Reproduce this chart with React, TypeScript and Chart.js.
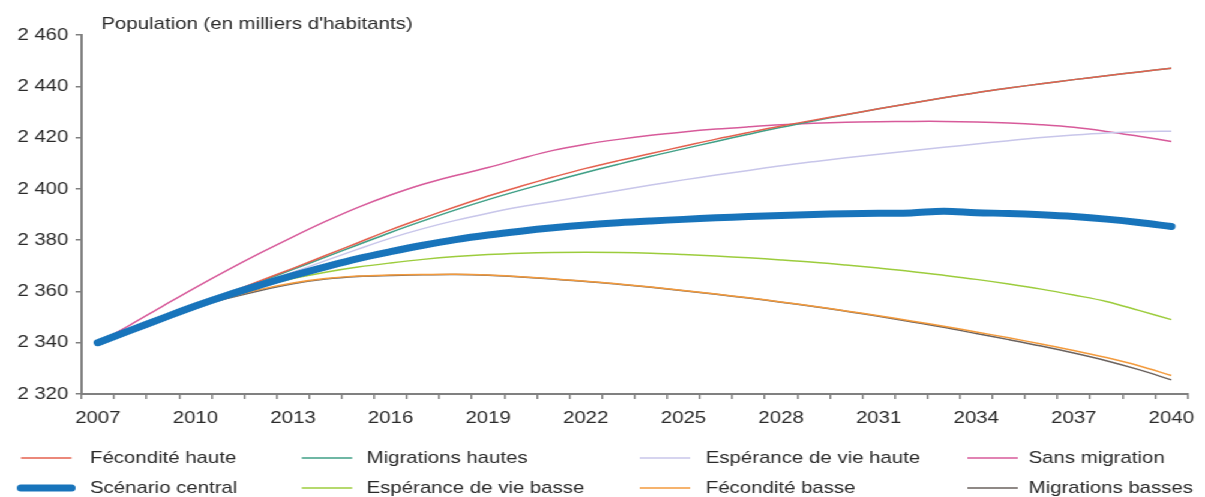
import React, { useEffect, useRef } from "react";
import { Chart, registerables } from "chart.js";

Chart.register(...registerables);

const years: string[] = [
  "2007","2008","2009","2010","2011","2012","2013","2014","2015","2016","2017","2018",
  "2019","2020","2021","2022","2023","2024","2025","2026","2027","2028","2029","2030",
  "2031","2032","2033","2034","2035","2036","2037","2038","2039","2040",
];

const feconditeHaute = [
  2340, 2345, 2349.8, 2354.5, 2359.3, 2364.2, 2369, 2374, 2379, 2384, 2388.6, 2393,
  2397.2, 2401, 2404.6, 2408, 2411, 2413.8, 2416.6, 2419.4, 2422, 2424.5, 2426.8, 2429,
  2431.2, 2433.4, 2435.5, 2437.5, 2439.3, 2441, 2442.6, 2444.1, 2445.6, 2447,
];
const migrationsHautes = [
  2340, 2344.8, 2349.6, 2354.3, 2359, 2363.8, 2368.6, 2373.4, 2378.2, 2383, 2387.5, 2391.8,
  2395.8, 2399.5, 2403, 2406.4, 2409.6, 2412.7, 2415.6, 2418.5, 2421.3, 2424, 2426.5, 2428.9,
  2431.2, 2433.4, 2435.5, 2437.5, 2439.3, 2441, 2442.6, 2444.1, 2445.6, 2447,
];
const esperanceHaute = [
  2340, 2345, 2349.8, 2354.5, 2359, 2363.3, 2367.5, 2372, 2376.5, 2380.8, 2384.5, 2387.7,
  2390.5, 2393, 2395.1, 2397.2, 2399.4, 2401.5, 2403.5, 2405.4, 2407.2, 2409, 2410.6, 2412.1,
  2413.5, 2414.9, 2416.2, 2417.5, 2418.8, 2420, 2421, 2421.8, 2422.3, 2422.5,
];
const sansMigration = [
  2340, 2347, 2354.3, 2361.5, 2368.4, 2375, 2381.3, 2387.3, 2392.8, 2397.6, 2401.8, 2405.2,
  2408.3, 2411.8, 2415, 2417.4, 2419.3, 2420.9, 2422.2, 2423.3, 2424.2, 2425, 2425.6, 2426,
  2426.2, 2426.3, 2426.3, 2426.1, 2425.7, 2425, 2424, 2422.4, 2420.5, 2418.5,
];
const scenarioCentral = [
  2340, 2344.8, 2349.6, 2354.3, 2358.6, 2362.5, 2366.2, 2369.6, 2372.8, 2375.5, 2378, 2380.2,
  2382, 2383.5, 2384.8, 2385.9, 2386.8, 2387.5, 2388.1, 2388.7, 2389.2, 2389.6, 2390, 2390.3,
  2390.5, 2390.6, 2391.3, 2390.7, 2390.4, 2389.9, 2389.2, 2388.2, 2386.9, 2385.3,
];
const esperanceBasse = [
  2340, 2344.8, 2349.5, 2354, 2358, 2361.8, 2365, 2367.5, 2369.5, 2371.1, 2372.5, 2373.6,
  2374.4, 2374.9, 2375.2, 2375.3, 2375.2, 2374.9, 2374.4, 2373.8, 2373.1, 2372.3, 2371.4, 2370.3,
  2369.1, 2367.8, 2366.3, 2364.7, 2362.9, 2360.9, 2358.6, 2356.1, 2352.6, 2349,
];
const feconditeBasse = [
  2340, 2344.7, 2349.4, 2353.8, 2357.6, 2360.8, 2363.3, 2365, 2366, 2366.4, 2366.6, 2366.7,
  2366.4, 2365.7, 2364.9, 2364, 2362.9, 2361.7, 2360.4, 2359, 2357.5, 2355.9, 2354.2, 2352.4,
  2350.5, 2348.5, 2346.4, 2344.2, 2341.9, 2339.5, 2337, 2334.2, 2331, 2327.2,
];
const migrationsBasses = [
  2340, 2344.7, 2349.4, 2353.8, 2357.3, 2360.4, 2363, 2364.8, 2365.8, 2366.2, 2366.5, 2366.6,
  2366.3, 2365.6, 2364.8, 2363.9, 2362.8, 2361.6, 2360.3, 2358.9, 2357.4, 2355.8, 2354.1, 2352.3,
  2350.3, 2348.2, 2346, 2343.6, 2341.2, 2338.7, 2336, 2333, 2329.5, 2325.5,
];

const seriesNames = [
  "Fécondité haute",
  "Migrations hautes",
  "Espérance de vie haute",
  "Sans migration",
  "Scénario central",
  "Espérance de vie basse",
  "Fécondité basse",
  "Migrations basses",
];
const seriesData = [
  feconditeHaute, migrationsHautes, esperanceHaute, sansMigration,
  scenarioCentral, esperanceBasse, feconditeBasse, migrationsBasses,
];
const seriesColors = [
  "#e4604e", "#3f9f86", "#c8c6ea", "#d75a9a",
  "#1874bb", "#9ccc3c", "#f39a3c", "#6a625e",
];

const yMin = 2320;
const yMax = 2460;
const yStep = 20;
const labelEvery = 3;
const titleText = "Population (en milliers d'habitants)";

const W = 1004;
const H = 497;
const STRETCH = 1205 / W;

const fmt = (v: number) => {
  const s = String(Math.round(v));
  return s.length > 3 ? s.slice(0, s.length - 3) + " " + s.slice(-3) : s;
};

const FONT = "'Liberation Sans', Arial, sans-serif";
const TEXT_COLOR = "#2a2a2a";

const legendLineX = [17.5, 251.5, 533, 806];
const legendTextX = [75, 305.5, 588, 857];
const legendRowY = [458, 488];

const extrasPlugin = {
  id: "extras",
  afterDraw(chart: any) {
    const ctx = chart.ctx as CanvasRenderingContext2D;
    ctx.save();
    // title
    ctx.fillStyle = TEXT_COLOR;
    ctx.font = `17px ${FONT}`;
    ctx.textBaseline = "alphabetic";
    ctx.textAlign = "left";
    ctx.fillText(titleText, chart.chartArea.left + 16.5, 28.5);
    // legend
    chart.data.datasets.forEach((ds: any, i: number) => {
      const col = i % 4;
      const row = Math.floor(i / 4);
      const y = legendRowY[row];
      ctx.beginPath();
      ctx.strokeStyle = ds.borderColor;
      ctx.lineWidth = ds.borderWidth;
      ctx.lineCap = ds.borderWidth > 3 ? "round" : "butt";
      ctx.moveTo(legendLineX[col], y);
      ctx.lineTo(legendLineX[col] + 42, y);
      ctx.stroke();
      ctx.fillStyle = TEXT_COLOR;
      ctx.font = `17px ${FONT}`;
      ctx.textBaseline = "middle";
      ctx.fillText(ds.label, legendTextX[col], y);
    });
    ctx.restore();
  },
};

export default function App() {
  const canvasRef = useRef<HTMLCanvasElement | null>(null);

  useEffect(() => {
    if (!canvasRef.current) return;
    const datasets = seriesNames.map((name, i) => ({
      label: name,
      data: seriesData[i],
      borderColor: seriesColors[i],
      backgroundColor: seriesColors[i],
      borderWidth: i === 4 ? 7 : 1.5,
      borderCapStyle: i === 4 ? "round" : "butt",
      pointRadius: 0,
      tension: 0.35,
      fill: false,
      order: i === 4 ? 0 : 1,
    }));
    const chart = new Chart(canvasRef.current, {
      type: "line",
      data: { labels: years, datasets: datasets as any },
      plugins: [extrasPlugin],
      options: {
        animation: false,
        responsive: false,
        devicePixelRatio: 1,
        layout: { padding: { top: 35, right: 8, left: 0, bottom: 0 } },
        plugins: {
          legend: { display: false },
          tooltip: { enabled: false },
          title: { display: false },
        },
        scales: {
          x: {
            type: "category",
            offset: true,
            afterFit: (scale: any) => {
              scale.height = 103;
            },
            border: { display: true, color: "#808080", width: 2 },
            grid: {
              offset: true,
              drawOnChartArea: false,
              drawTicks: true,
              tickLength: 5,
              color: "#808080",
              lineWidth: 1.5,
            },
            ticks: {
              autoSkip: false,
              maxRotation: 0,
              minRotation: 0,
              padding: 9,
              color: TEXT_COLOR,
              font: { family: FONT, size: 17 },
              callback: function (this: any, _v: any, index: number) {
                return index % labelEvery === 0 ? years[index] : "";
              },
            },
          },
          y: {
            min: yMin,
            max: yMax,
            afterFit: (scale: any) => {
              scale.width = 68;
            },
            border: { display: true, color: "#808080", width: 2 },
            grid: {
              drawOnChartArea: false,
              drawTicks: true,
              tickLength: 5,
              color: "#808080",
              lineWidth: 1.5,
            },
            ticks: {
              stepSize: yStep,
              padding: 6,
              color: TEXT_COLOR,
              font: { family: FONT, size: 17 },
              callback: (v: any) => fmt(Number(v)),
            },
          },
        },
      },
    });
    return () => chart.destroy();
  }, []);

  return (
    <div
      style={{
        position: "absolute",
        left: 0,
        top: 0,
        width: W,
        height: H,
        transform: `scaleX(${STRETCH})`,
        transformOrigin: "0 0",
        background: "#ffffff",
      }}
    >
      <canvas ref={canvasRef} width={W} height={H} style={{ display: "block" }} />
    </div>
  );
}
